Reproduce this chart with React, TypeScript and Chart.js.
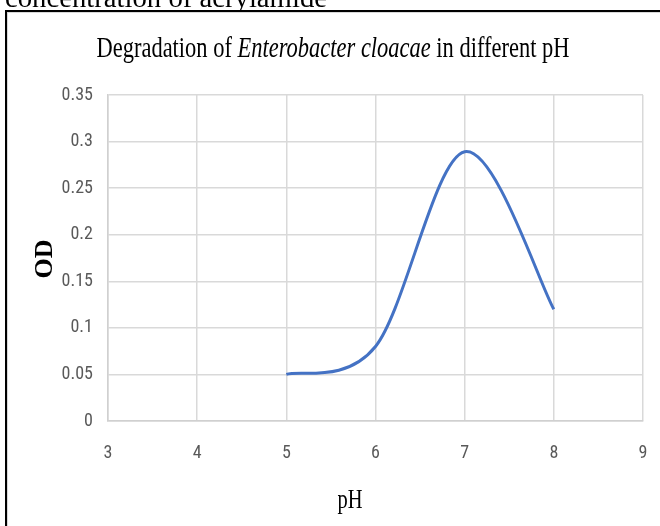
import React, { useEffect, useRef } from "react";
import { Chart, registerables } from "chart.js";

Chart.register(...registerables);

const phValues = [5, 6, 7, 8];
const odValues = [0.05, 0.08, 0.289, 0.12];
const xTicks = [3, 4, 5, 6, 7, 8, 9];
const yTicks = [0, 0.05, 0.1, 0.15, 0.2, 0.25, 0.3, 0.35];

const titlePre = "Degradation of ";
const titleItalic = "Enterobacter cloacae";
const titlePost = " in different pH";
const topCaption = "concentration of acrylamide";
const xTitle = "pH";
const yTitle = "OD";

// Spreadsheet-style smoothing: Catmull-Rom control points (1/6 of neighbour span)
const smoothPlugin = {
  id: "smoothPlugin",
  beforeDatasetsDraw(chart: any) {
    const meta = chart.getDatasetMeta(0);
    const line = meta.dataset;
    const pts = meta.data;
    if (!line || !pts || pts.length < 2) return;
    line.updateControlPoints(chart.chartArea);
    for (let i = 0; i < pts.length; i++) {
      const p = pts[i];
      const prev = pts[i - 1] || p;
      const next = pts[i + 1] || p;
      const dx = (next.x - prev.x) / 6;
      const dy = (next.y - prev.y) / 6;
      p.cp1x = p.x - dx;
      p.cp1y = p.y - dy;
      p.cp2x = p.x + dx;
      p.cp2y = p.y + dy;
    }
    line._path = undefined;
  },
};

const textPlugin = {
  id: "textPlugin",
  afterDraw(chart: any) {
    const ctx = chart.ctx as CanvasRenderingContext2D;
    ctx.save();
    ctx.fillStyle = "#000";
    ctx.textBaseline = "alphabetic";
    ctx.textAlign = "left";

    // cropped caption at top
    ctx.font = "28px 'Liberation Serif', serif";
    const capW = ctx.measureText(topCaption).width;
    ctx.save();
    ctx.translate(5, 7);
    ctx.scale(322 / capW, 1);
    ctx.fillText(topCaption, 0, 0);
    ctx.restore();

    // title with italic part
    const normal = "29px 'Liberation Serif', serif";
    const italic = "italic 29px 'Liberation Serif', serif";
    ctx.font = normal;
    const w1 = ctx.measureText(titlePre).width;
    const w3 = ctx.measureText(titlePost).width;
    ctx.font = italic;
    const w2 = ctx.measureText(titleItalic).width;
    const total = w1 + w2 + w3;
    const target = 473;
    const sx = target / total;
    ctx.save();
    ctx.translate(333 - target / 2, 57);
    ctx.scale(sx, 1);
    ctx.font = normal;
    ctx.fillText(titlePre, 0, 0);
    ctx.font = italic;
    ctx.fillText(titleItalic, w1, 0);
    ctx.font = normal;
    ctx.fillText(titlePost, w1 + w2, 0);
    ctx.restore();

    // x title
    ctx.font = "27px 'Liberation Serif', serif";
    const wx = ctx.measureText(xTitle).width;
    ctx.save();
    ctx.translate(350, 508);
    ctx.scale(25 / wx, 1);
    ctx.textAlign = "center";
    ctx.fillText(xTitle, 0, 0);
    ctx.restore();

    // y title
    ctx.font = "bold 26px 'Liberation Serif', serif";
    ctx.save();
    ctx.translate(52, 259);
    ctx.rotate(-Math.PI / 2);
    ctx.textAlign = "center";
    ctx.fillText(yTitle, 0, 0);
    ctx.restore();

    ctx.restore();
  },
};

export default function App() {
  const canvasRef = useRef<HTMLCanvasElement | null>(null);

  useEffect(() => {
    if (!canvasRef.current) return;
    const points = phValues.map((x, i) => ({ x, y: odValues[i] }));
    const tickFont = { family: "'Liberation Sans Narrow', 'Roboto Condensed', 'DejaVu Sans Condensed', sans-serif", size: 18 };
    const chart = new Chart(canvasRef.current, {
      type: "line",
      data: {
        datasets: [
          {
            data: points,
            borderColor: "#4472C4",
            borderWidth: 3,
            pointRadius: 0,
            tension: 0.4,
            fill: false,
          },
        ],
      },
      options: {
        animation: false,
        responsive: false,
        maintainAspectRatio: false,
        devicePixelRatio: 1,
        layout: { padding: { top: 95, right: 17, left: 0, bottom: 0 } },
        plugins: { legend: { display: false }, title: { display: false }, tooltip: { enabled: false } },
        scales: {
          x: {
            type: "linear",
            min: xTicks[0],
            max: xTicks[xTicks.length - 1],
            afterBuildTicks: (s: any) => {
              s.ticks = xTicks.map((v) => ({ value: v }));
            },
            afterFit: (s: any) => {
              s.height = 105;
              s.paddingLeft = 0;
              s.paddingRight = 0;
            },
            grid: { color: "#d9d9d9", lineWidth: 1.5, drawTicks: false },
            border: { color: "#d0d0d0", width: 1.5 },
            ticks: { color: "#595959", font: tickFont, padding: 22, maxRotation: 0 },
          },
          y: {
            type: "linear",
            min: yTicks[0],
            max: yTicks[yTicks.length - 1],
            afterBuildTicks: (s: any) => {
              s.ticks = yTicks.map((v) => ({ value: v }));
            },
            afterFit: (s: any) => {
              s.width = 108;
              s.paddingTop = 0;
              s.paddingBottom = 0;
            },
            grid: { color: "#d9d9d9", lineWidth: 1.5, drawTicks: false },
            border: { color: "#d0d0d0", width: 1.5 },
            ticks: {
              color: "#595959",
              font: tickFont,
              padding: 15,
              callback: (v: any) => String(Number(v)),
            },
          },
        },
      },
      plugins: [smoothPlugin, textPlugin],
    });
    return () => chart.destroy();
  }, []);

  return (
    <div style={{ position: "fixed", left: 0, top: 0, width: 660, height: 526, overflow: "hidden", background: "#fff" }}>
      <canvas ref={canvasRef} width={660} height={526} style={{ position: "absolute", left: 0, top: 0, width: 660, height: 526 }} />
      <div
        style={{
          position: "absolute",
          left: 5,
          top: 10,
          width: 700,
          height: 600,
          borderLeft: "2px solid #000",
          borderTop: "2px solid #000",
          boxShadow: "inset 1px 1px 0 #d8d8d8",
          pointerEvents: "none",
        }}
      />
    </div>
  );
}
